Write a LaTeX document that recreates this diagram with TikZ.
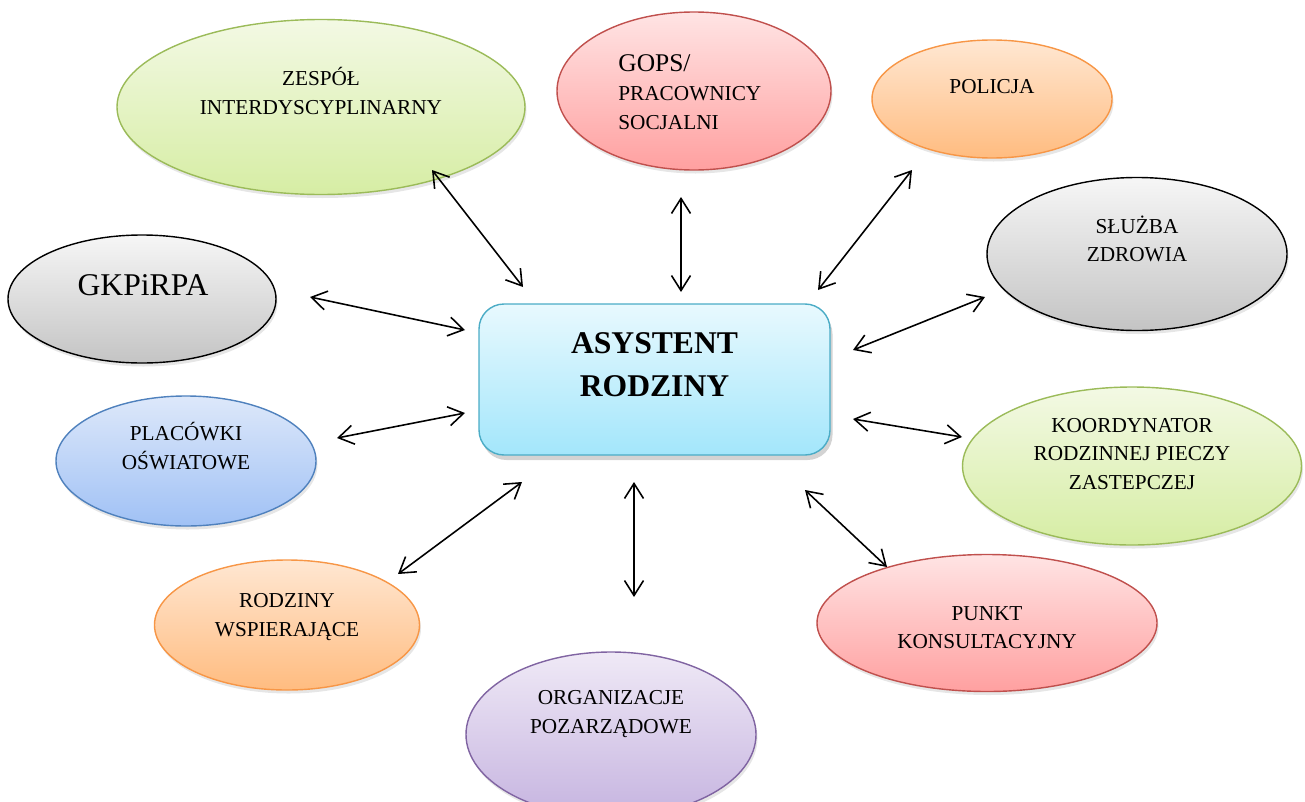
\documentclass[tikz,border=0pt]{standalone}
\usepackage{fontspec}
\setmainfont{Liberation Serif}
\usetikzlibrary{shapes.geometric, arrows.meta, shadows}

\definecolor{greenLine}{HTML}{9BBB59}
\definecolor{greenTop}{HTML}{F3F9E4}
\definecolor{greenBottom}{HTML}{D6EDA4}
\definecolor{redLine}{HTML}{C0504D}
\definecolor{redTop}{HTML}{FFE4E4}
\definecolor{redBottom}{HTML}{FFA0A0}
\definecolor{orangeLine}{HTML}{F79646}
\definecolor{orangeTop}{HTML}{FFE7D2}
\definecolor{orangeBottom}{HTML}{FFBC80}
\definecolor{grayTop}{HTML}{F6F6F6}
\definecolor{grayBottom}{HTML}{C4C4C4}
\definecolor{blueLine}{HTML}{4F81BD}
\definecolor{blueTop}{HTML}{DDE8FA}
\definecolor{blueBottom}{HTML}{A0C1F5}
\definecolor{purpleLine}{HTML}{8064A2}
\definecolor{purpleTop}{HTML}{EFE9F6}
\definecolor{purpleBottom}{HTML}{C6B4E0}
\definecolor{cyanLine}{HTML}{4BACC6}
\definecolor{cyanTop}{HTML}{E8F9FE}
\definecolor{cyanBottom}{HTML}{A3E6FB}

\tikzstyle{bubble} = [
ellipse,
line width=0.8pt,
inner sep=0pt,
drop shadow={opacity=0.2, shadow xshift=0.03cm, shadow yshift=-0.07cm}]
\tikzstyle{greenBubble} = [bubble, draw=greenLine, top color=greenTop, bottom color=greenBottom]
\tikzstyle{redBubble} = [bubble, draw=redLine, top color=redTop, bottom color=redBottom]
\tikzstyle{orangeBubble} = [bubble, draw=orangeLine, top color=orangeTop, bottom color=orangeBottom]
\tikzstyle{grayBubble} = [bubble, draw=black, top color=grayTop, bottom color=grayBottom]
\tikzstyle{blueBubble} = [bubble, draw=blueLine, top color=blueTop, bottom color=blueBottom]
\tikzstyle{purpleBubble} = [bubble, draw=purpleLine, top color=purpleTop, bottom color=purpleBottom]
\tikzstyle{bubbleText} = [
align=center,
inner sep=0pt,
font=\fontsize{12.1}{16}\selectfont]
\tikzstyle{centre} = [
rectangle,
rounded corners=0.5cm,
draw=cyanLine,
line width=0.8pt,
top color=cyanTop,
bottom color=cyanBottom,
minimum width=7.02cm,
minimum height=3.02cm,
drop shadow={opacity=0.35, shadow xshift=0.05cm, shadow yshift=-0.1cm}]
\tikzstyle{link} = [
draw=black,
line width=0.9pt,
>={Straight Barb[length=3mm, width=3.8mm]},
<->]

\begin{document}
\begin{tikzpicture}
\useasboundingbox (0,0) rectangle (26.1,-16.02);

% outer bubbles
\node[greenBubble, minimum width=8.16cm, minimum height=3.5cm] (zespol) at (6.42,-2.14) {};
\node[redBubble, minimum width=5.48cm, minimum height=3.16cm] (gops) at (13.88,-1.82) {};
\node[orangeBubble, minimum width=4.8cm, minimum height=2.36cm] (policja) at (19.84,-1.98) {};
\node[grayBubble, minimum width=6cm, minimum height=3.06cm] (sluzba) at (22.74,-5.08) {};
\node[grayBubble, minimum width=5.36cm, minimum height=2.56cm] (gkpirpa) at (2.84,-5.98) {};
\node[blueBubble, minimum width=5.2cm, minimum height=2.6cm] (placowki) at (3.72,-9.22) {};
\node[greenBubble, minimum width=6.78cm, minimum height=3.16cm] (koordynator) at (22.64,-9.32) {};
\node[orangeBubble, minimum width=5.3cm, minimum height=2.6cm] (wspierajace) at (5.74,-12.5) {};
\node[redBubble, minimum width=6.8cm, minimum height=2.74cm] (punkt) at (19.74,-12.46) {};
\node[purpleBubble, minimum width=5.8cm, minimum height=3.3cm] (organizacje) at (12.22,-14.69) {};

% texts
\node[bubbleText] (zespolText) at (6.42,-1.82) {ZESPÓŁ\\INTERDYSCYPLINARNY};
\node[bubbleText, anchor=west, align=left, font=\fontsize{12.1}{16.5}\selectfont] (gopsText) at (12.36,-1.84)
    {{\fontsize{14.5}{16.5}\selectfont GOPS/}\\PRACOWNICY\\SOCJALNI};
\node[bubbleText] (policjaText) at (19.84,-1.74) {POLICJA};
\node[bubbleText] (sluzbaText) at (22.74,-4.78) {SŁUŻBA\\ZDROWIA};
\node[bubbleText, font=\fontsize{18}{20}\selectfont] (gkpirpaText) at (2.86,-5.7) {GKPiRPA};
\node[bubbleText] (placowkiText) at (3.72,-8.92) {PLACÓWKI\\OŚWIATOWE};
\node[bubbleText] (koordynatorText) at (22.64,-9.08) {KOORDYNATOR\\RODZINNEJ PIECZY\\ZASTEPCZEJ};
\node[bubbleText] (wspierajaceText) at (5.74,-12.34) {RODZINY\\WSPIERAJĄCE};
\node[bubbleText] (punktText) at (19.74,-12.56) {PUNKT\\KONSULTACYJNY};
\node[bubbleText] (organizacjeText) at (12.22,-14.28) {ORGANIZACJE\\POZARZĄDOWE};

% centre
\node[centre] (asystent) at (13.09,-7.59) {};
\node[bubbleText, font=\fontsize{18}{24.5}\selectfont\bfseries] (asystentText) at (13.09,-7.29) {ASYSTENT\\RODZINY};

% arrow ends
\coordinate (zespolA) at (8.64,-3.4);      \coordinate (zespolB) at (10.46,-5.74);
\coordinate (gopsA) at (13.62,-3.94);      \coordinate (gopsB) at (13.62,-5.84);
\coordinate (policjaA) at (18.24,-3.4);    \coordinate (policjaB) at (16.36,-5.8);
\coordinate (sluzbaA) at (19.7,-5.94);     \coordinate (sluzbaB) at (17.06,-7.0);
\coordinate (gkpirpaA) at (6.2,-5.94);     \coordinate (gkpirpaB) at (9.3,-6.6);
\coordinate (placowkiA) at (6.74,-8.76);   \coordinate (placowkiB) at (9.3,-8.26);
\coordinate (koordA) at (19.24,-8.74);     \coordinate (koordB) at (17.06,-8.38);
\coordinate (wspierA) at (7.96,-11.48);    \coordinate (wspierB) at (10.44,-9.64);
\coordinate (organA) at (12.68,-11.94);    \coordinate (organB) at (12.68,-9.64);
\coordinate (punktA) at (17.74,-11.34);    \coordinate (punktB) at (16.1,-9.8);

\draw[link] (zespolA) -- (zespolB);
\draw[link] (gopsA) -- (gopsB);
\draw[link] (policjaA) -- (policjaB);
\draw[link] (sluzbaA) -- (sluzbaB);
\draw[link] (gkpirpaA) -- (gkpirpaB);
\draw[link] (placowkiA) -- (placowkiB);
\draw[link] (koordA) -- (koordB);
\draw[link] (wspierA) -- (wspierB);
\draw[link] (organA) -- (organB);
\draw[link] (punktA) -- (punktB);

\end{tikzpicture}
\end{document}
